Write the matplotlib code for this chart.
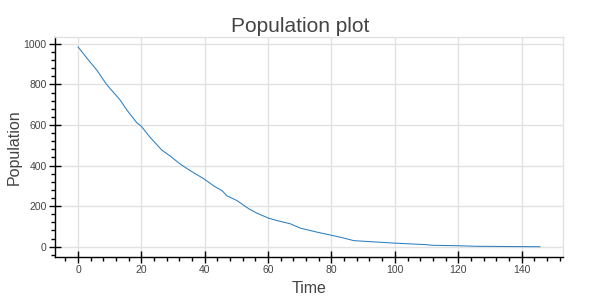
import matplotlib
matplotlib.use("Agg")
import matplotlib.pyplot as plt
from matplotlib.ticker import MultipleLocator

time = [0, 3.3, 5.9, 9, 13.3, 15.4, 18.5, 19.9, 22.7, 26.4, 29, 32.2, 35.4, 39.9,
        42.8, 45.4, 47, 50.1, 53.8, 56.4, 60.1, 62.8, 67, 70.1, 75.4, 80.1, 83.8,
        87, 91.2, 99.6, 110, 112, 119.6, 126, 139.7, 145.8]
population = [985, 920, 871, 800, 723, 674, 612, 595, 540, 477, 448, 408, 375, 333,
              300, 277, 251, 228, 188, 166, 141, 129, 113, 92, 72, 56, 43,
              30, 26, 18, 10, 7, 5, 2, 0.5, 0]

title = "Population plot"
xlabel = "Time"
ylabel = "Population"

plt.rcParams['font.family'] = ['Liberation Sans', 'DejaVu Sans']
fig = plt.figure(figsize=(6, 3), dpi=100)
ax = fig.add_axes([55/600, (300-256.7)/300, 508/600, (256.7-37)/300])

ax.plot(time, population, color='#2b7fc0', lw=0.75)

span_x = max(time) - min(time)
ax.set_xlim(min(time) - 0.05*span_x, max(time) + 0.05*span_x)
span_y = max(population) - min(population)
ax.set_ylim(min(population) - 0.05*span_y, max(population) + 0.05*span_y)

ax.xaxis.set_major_locator(MultipleLocator(20))
ax.xaxis.set_minor_locator(MultipleLocator(4))
ax.yaxis.set_major_locator(MultipleLocator(200))
ax.yaxis.set_minor_locator(MultipleLocator(40))

ax.grid(True, which='major', color='#e2e2e2', lw=1)
ax.set_axisbelow(True)
for s in ['top', 'right']:
    ax.spines[s].set_color('#e2e2e2')
    ax.spines[s].set_linewidth(1)
for s in ['left', 'bottom']:
    ax.spines[s].set_color('black')
    ax.spines[s].set_linewidth(1)

ax.tick_params(which='major', direction='inout', length=8, width=1, colors='black',
               labelsize=7.5, labelcolor='#444444', pad=2)
ax.tick_params(which='minor', direction='out', length=3, width=1, colors='black')

ax.set_xlabel(xlabel, fontsize=11.5, color='#444444', labelpad=4)
ax.set_ylabel(ylabel, fontsize=11.5, color='#444444', labelpad=1)
fig.text(0.5, 1 - 31.7/300, title, ha='center', va='baseline', fontsize=15, color='#444444')

fig.savefig("out.png", dpi=100)
